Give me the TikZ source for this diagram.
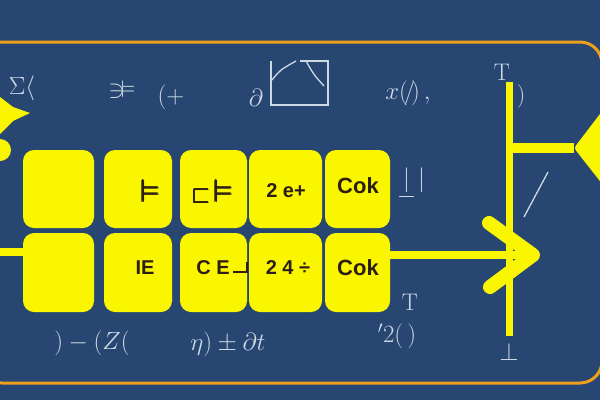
\documentclass[tikz,border=0pt]{standalone}
\usepackage{amsmath}
\usepackage{amssymb}
\usepackage{fontspec}
\setsansfont{Liberation Sans}

\definecolor{board}{RGB}{40,70,114}
\definecolor{hiyellow}{RGB}{250,246,0}
\definecolor{frameorange}{RGB}{238,160,28}
\definecolor{boxink}{RGB}{45,30,20}
\definecolor{chalkwhite}{RGB}{205,218,228}

\begin{document}
\begin{tikzpicture}[x=1pt, y=-1pt,
  cell/.style={fill=hiyellow, rounded corners=11pt, inner sep=0pt},
  ink/.style={text=boxink, font=\sffamily\bfseries\fontsize{20}{20}\selectfont},
  chalk/.style={text=chalkwhite, font=\fontsize{24}{24}\selectfont, inner sep=0pt},
  chalkline/.style={draw=chalkwhite, line width=1.3pt},
  wire/.style={draw=hiyellow, line width=8pt}]

\fill [board] (0, 0) rectangle (600, 400);
\useasboundingbox (0, 0) rectangle (600, 400);
\draw [frameorange, line width=3pt, rounded corners=22pt] (-20, 42) rectangle (602, 383);

% the two rows of cells
\node [cell, minimum width=71pt, minimum height=78pt] (c11) at (58.5, 189) {};
\node [cell, minimum width=68pt, minimum height=78pt] (c12) at (138, 189) {};
\node [cell, minimum width=67pt, minimum height=78pt] (c13) at (213.5, 189) {};
\node [cell, minimum width=73pt, minimum height=78pt] (c14) at (285.5, 189) {};
\node [cell, minimum width=65pt, minimum height=78pt] (c15) at (357.5, 189) {};
\node [cell, minimum width=71pt, minimum height=79pt] (c21) at (58.5, 272.5) {};
\node [cell, minimum width=68pt, minimum height=79pt] (c22) at (138, 272.5) {};
\node [cell, minimum width=67pt, minimum height=79pt] (c23) at (213.5, 272.5) {};
\node [cell, minimum width=73pt, minimum height=79pt] (c24) at (285.5, 272.5) {};
\node [cell, minimum width=65pt, minimum height=79pt] (c25) at (357.5, 272.5) {};

\node [ink] (t12) at (151, 191) {\scalebox{1.6}{$\pmb{\vDash}$}};
\node [ink] (t13) at (213, 191) {\scalebox{1.2}{$\pmb{\sqsubset}$}\,\scalebox{1.6}{$\pmb{\vDash}$}};
\node [ink] (t14) at (286, 191) {2 e+};
\node [ink, font=\sffamily\bfseries\fontsize{22}{22}\selectfont] (t15) at (358, 186) {Cok};
\node [ink] (t22) at (145, 268) {IE};
\node [ink] (t23) at (213, 268) {C E};
\node [ink] (t24) at (288, 268) {2 4 ÷};
\node [ink, font=\sffamily\bfseries\fontsize{22}{22}\selectfont] (t25) at (358, 268) {Cok};
\draw [boxink, line width=1.5pt] (t23.east |- 0, 272) -- (247, 272) -- (247, 262);

% yellow wires and arrow
\coordinate (tip) at (533, 255);
\coordinate (vtop) at (509, 82);
\coordinate (vbot) at (509, 336);
\coordinate (hook) at (574, 148);
\draw [wire] (0, 252) -- (c21.west |- 0, 252);
\draw [wire] (c25.east |- tip) -- (tip);
\draw [draw=hiyellow, line width=14pt, line cap=round, line join=round] (489, 223) -- (tip) -- (490, 287);
\draw [draw=hiyellow, line width=7pt] (vtop) -- (vbot);
\draw [draw=hiyellow, line width=10pt] (509, 148) -- (hook);
\fill [hiyellow, rounded corners=3pt] (hook) -- (603, 110) -- (603, 185) -- cycle;
\fill [hiyellow] (0, 97) -- (13, 107) -- (30, 113) -- (13, 121) -- (0, 134) -- cycle;
\fill [hiyellow] (0, 150) circle (11);

% chalk scribbles
\node [chalk] (s1) at (22, 88) {$\Sigma\langle$};
\node [chalk] (s2) at (122, 90) {$\ni\!\vDash$};
\node [chalk] (s3) at (171, 97) {$(+$};
\node [chalk] (s4) at (256, 98) {$\partial$};
\draw [chalkline] (271, 61) -- (271, 105) -- (328, 105) -- (328, 61) -- (300, 61);
\draw [chalkline] (272, 80) .. controls (280, 70) .. (296, 61);
\draw [chalkline] (306, 61) .. controls (314, 75) .. (324, 86);
\node [chalk] (s5) at (408, 93) {$x(\!/\!)\,,$};
\node [chalk] (s6) at (502, 72) {T};
\node [chalk] (s7) at (521, 97) {)};
\node [chalk] (s8) at (412, 183) {$\underline{\,|\,}\,|$};
\draw [chalkline] (548, 172) -- (524, 217);
\node [chalk] (s9) at (410, 302) {T};
\node [chalk] (s10) at (397, 336) {$'2(\,)$};
\node [chalk] (s11) at (509, 352) {$\perp$};
\node [chalk] (s12) at (92, 343) {$)-(Z($};
\node [chalk] (s13) at (228, 344) {$\eta)\pm\partial t$};

\end{tikzpicture}
\end{document}
